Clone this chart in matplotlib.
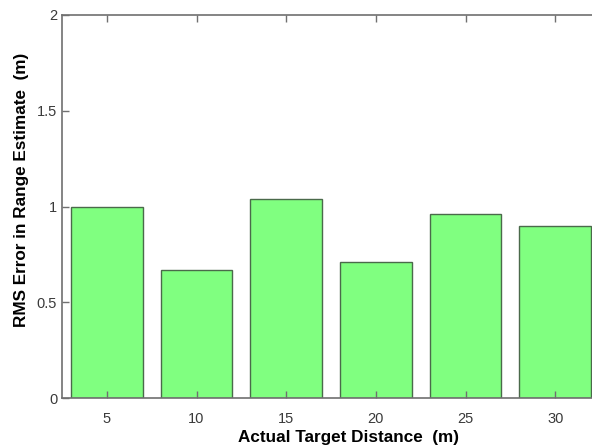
import matplotlib
matplotlib.use("Agg")
import matplotlib.pyplot as plt

# data
distances = [5, 10, 15, 20, 25, 30]
rms_error = [1.0, 0.67, 1.04, 0.71, 0.96, 0.90]

plt.rcParams['font.family'] = ['Liberation Sans', 'DejaVu Sans']

fig = plt.figure(figsize=(5.92, 4.47), dpi=100)
# axes runs slightly past the right edge, as in the reference crop
ax = fig.add_axes([62 / 592, 49 / 447, 538 / 592, 383 / 447])

ax.bar(distances, rms_error, width=4, color='#80ff80', edgecolor='#4a6a4a', linewidth=1.0)

ax.set_xlim(2.5, 32.5)
ax.set_ylim(0, 2)
ax.set_xticks(distances)
ax.set_yticks([0, 0.5, 1, 1.5, 2])
ax.set_yticklabels(['0', '0.5', '1', '1.5', '2'])

for s in ax.spines.values():
    s.set_color('#707070')
    s.set_linewidth(1.2)
ax.tick_params(direction='in', top=True, right=True, length=5, width=1,
               colors='#707070', labelcolor='#3a3a3a', labelsize=10.5)
ax.tick_params(axis='x', pad=10)

ax.set_xlabel('Actual Target Distance  (m)', fontsize=12.3, fontweight='bold')
ax.set_ylabel('RMS Error in Range Estimate  (m)', fontsize=12.3, fontweight='bold')
# label positions as in the reference (slightly off-centre)
ax.xaxis.set_label_coords(0.532, -0.083)
ax.yaxis.set_label_coords(-0.062, 0.543)

fig.savefig('out.png', dpi=100)
